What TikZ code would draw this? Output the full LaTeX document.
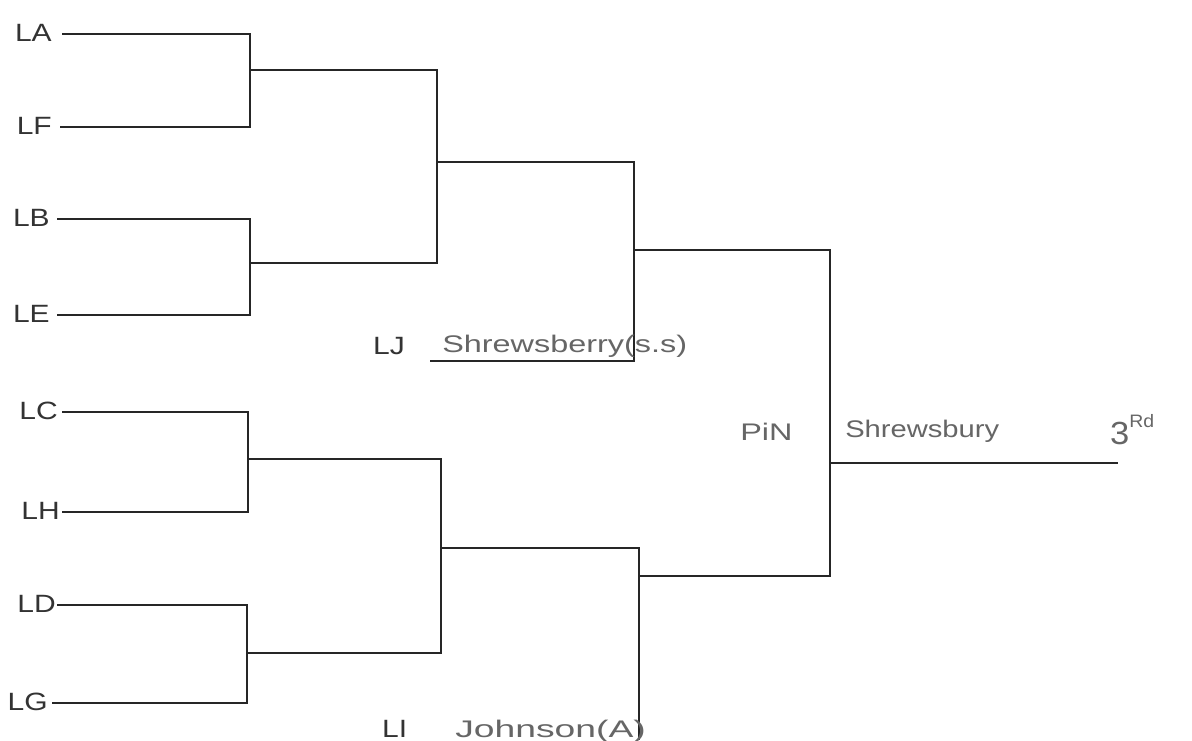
\documentclass[tikz,border=0pt]{standalone}
\usepackage{fontspec}
\setmainfont{Liberation Sans}
\begin{document}
\begin{tikzpicture}[x=1pt,y=-1pt,
  ln/.style={line width=1.8pt, black!85},
  lbl/.style={font=\fontsize{25}{28}\selectfont, text=black!80, inner sep=0pt, anchor=base east, xscale=1.2, transform shape},
  pen/.style={font=\fontsize{24}{28}\selectfont, text=black!60, inner sep=0pt, anchor=base west, xscale=1.35, transform shape}
]
\useasboundingbox[fill=white] (0,0) rectangle (1192,740);
% leaf labels
\node[lbl] (LA) at (52,41) {LA};
\node[lbl] (LF) at (52,134) {LF};
\node[lbl] (LB) at (50,226) {LB};
\node[lbl] (LE) at (50,322) {LE};
\node[lbl] (LC) at (58,419) {LC};
\node[lbl] (LH) at (60,519) {LH};
\node[lbl] (LD) at (56,612) {LD};
\node[lbl] (LG) at (48,710) {LG};
% leaf line starts and ends
\coordinate (sA) at (62,34);  \coordinate (eA) at (250,34);
\coordinate (sF) at (60,127); \coordinate (eF) at (250,127);
\coordinate (sB) at (57,219); \coordinate (eB) at (250,219);
\coordinate (sE) at (57,315); \coordinate (eE) at (250,315);
\coordinate (sC) at (62,412); \coordinate (eC) at (248,412);
\coordinate (sH) at (62,512); \coordinate (eH) at (248,512);
\coordinate (sD) at (57,605); \coordinate (eD) at (247,605);
\coordinate (sG) at (52,703); \coordinate (eG) at (247,703);
% round 1 outputs
\coordinate (m1) at (250,70);  \coordinate (m1o) at (437,70);
\coordinate (m2) at (250,263); \coordinate (m2o) at (437,263);
\coordinate (m3) at (248,459); \coordinate (m3o) at (441,459);
\coordinate (m4) at (247,653); \coordinate (m4o) at (441,653);
% round 2
\coordinate (s1) at (437,162); \coordinate (s1o) at (634,162);
\coordinate (s2) at (441,548); \coordinate (s2o) at (639,548);
% round 3
\coordinate (f1b) at (634,361); \coordinate (u1) at (430,361);
\coordinate (f1) at (634,250); \coordinate (f1o) at (830,250);
\coordinate (f2b) at (639,740);
\coordinate (f2) at (639,576); \coordinate (f2o) at (830,576);
\coordinate (w) at (830,463); \coordinate (wo) at (1118,463);

\draw[ln] (sA) -- (eA) -- (eF) -- (sF);
\draw[ln] (sB) -- (eB) -- (eE) -- (sE);
\draw[ln] (sC) -- (eC) -- (eH) -- (sH);
\draw[ln] (sD) -- (eD) -- (eG) -- (sG);
\draw[ln] (m1) -- (m1o) -- (m2o) -- (m2);
\draw[ln] (m3) -- (m3o) -- (m4o) -- (m4);
\draw[ln] (s1) -- (s1o) -- (f1b) -- (u1);
\draw[ln] (s2) -- (s2o) -- (f2b);
\draw[ln] (f1) -- (f1o) -- (f2o) -- (f2);
\draw[ln] (w) -- (wo);

% texts
\node[lbl, anchor=base west] (LJ) at (373,354) {LJ};
\node[pen] (sh1) at (442,352) {Shrewsberry(s.s)};
\node[lbl, anchor=base west] (LI) at (382,737) {LI};
\node[pen, xscale=1.15] (jo) at (455,737) {Johnson(A)};
\node[pen] (pin) at (740,440) {PiN};
\node[pen, xscale=0.9] (sh2) at (845,437) {Shrewsbury};
\node[pen, xscale=0.8] (third) at (1110,444) {\fontsize{32}{34}\selectfont 3\raisebox{1.0ex}{\fontsize{18}{20}\selectfont Rd}};
\end{tikzpicture}
\end{document}
